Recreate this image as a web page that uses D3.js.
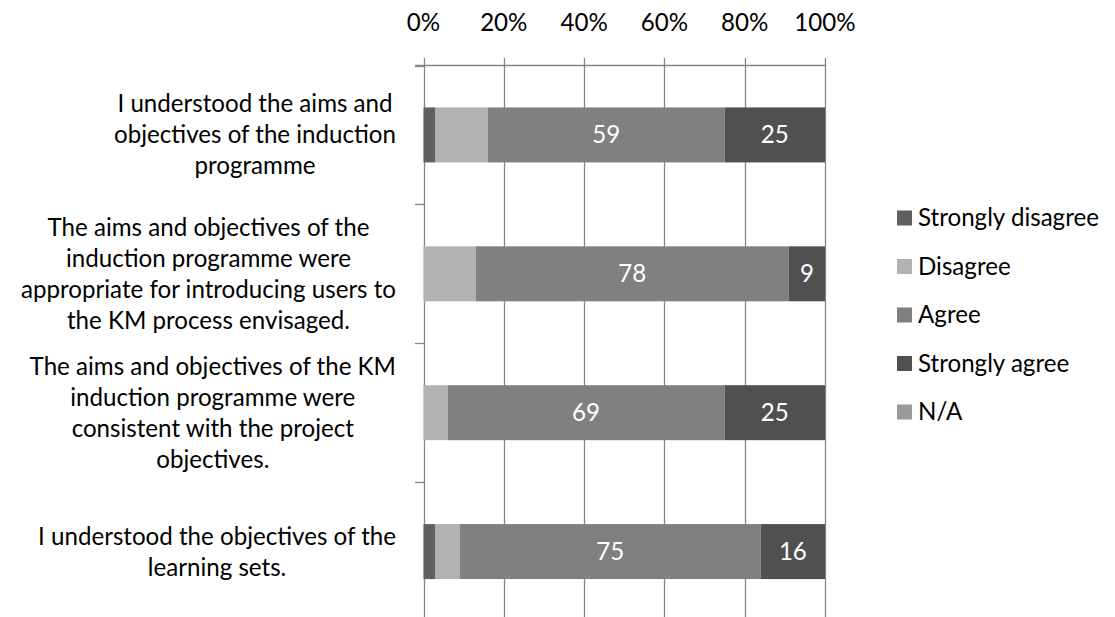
<!DOCTYPE html>
<html>
<head>
<meta charset="utf-8">
<script src="https://cdn.jsdelivr.net/npm/d3@7"></script>
<style>
  html, body { margin: 0; padding: 0; background: #ffffff; }
  svg { display: block; }
</style>
</head>
<body>
<svg id="chart" width="1115" height="617"></svg>
<script>
// ---- data ----
const categories = [
  ["I understood the aims and", "objectives of the induction", "programme"],
  ["The aims and objectives of the", "induction programme were", "appropriate for introducing users to", "the KM process envisaged."],
  ["The aims and objectives of the KM", "induction programme were", "consistent with the project", "objectives."],
  ["I understood the objectives of the", "learning sets."]
];
const seriesNames = ["Strongly disagree", "Disagree", "Agree", "Strongly agree", "N/A"];
const stronglyDisagree = [3, 0, 0, 3];
const disagree = [13, 13, 6, 6];
const agree = [59, 78, 69, 75];
const stronglyAgree = [25, 9, 25, 16];
const notApplicable = [0, 0, 0, 0];
const labelledSeries = ["Agree", "Strongly agree"];
const tickValues = [0, 0.2, 0.4, 0.6, 0.8, 1.0];
const tickLabels = ["0%", "20%", "40%", "60%", "80%", "100%"];
const colors = ["#606060", "#b2b2b2", "#808080", "#505050", "#999999"];

// ---- setup ----
const svg = d3.select("#chart");
const FONT = "Lato, 'Open Sans', 'DejaVu Sans', sans-serif";

// fit font size so legend text width matches reference
const probe = svg.append("text").attr("font-family", FONT).attr("font-size", 100).text("Strongly disagree");
const probeW = probe.node().getComputedTextLength();
probe.remove();
const FS = Math.max(16, Math.min(28, 100 * 181 / probeW));

const values = [stronglyDisagree, disagree, agree, stronglyAgree, notApplicable];
const rows = categories.map((c, i) => {
  const r = { key: "c" + i };
  seriesNames.forEach((s, j) => r[s] = values[j][i]);
  return r;
});
const stack = d3.stack().keys(seriesNames).offset(d3.stackOffsetExpand);
const stacked = stack(rows);

const x = d3.scaleLinear().domain([0, 1]).range([423.5, 825]);
const y = d3.scaleBand().domain(rows.map(r => r.key)).range([65.5, 621])
  .paddingInner(0.604).paddingOuter(0.302);

const gridColor = "#868686";

// gridlines (vertical)
svg.append("g").selectAll("line").data(tickValues).join("line")
  .attr("x1", d => Math.round(x(d)) + 0.5).attr("x2", d => Math.round(x(d)) + 0.5)
  .attr("y1", 58).attr("y2", 617)
  .attr("stroke", gridColor).attr("stroke-width", 1.3);

// top axis line
svg.append("line").attr("x1", 415).attr("x2", Math.round(x(1)) + 0.5)
  .attr("y1", 65.5).attr("y2", 65.5).attr("stroke", gridColor).attr("stroke-width", 1.3);

// category ticks on left axis
const step = y.step();
const bounds = d3.range(0, 5).map(i => 65.5 + i * step);
svg.append("g").selectAll("line").data(bounds).join("line")
  .attr("x1", 415).attr("x2", 424)
  .attr("y1", d => Math.round(d) + 0.5).attr("y2", d => Math.round(d) + 0.5)
  .attr("stroke", gridColor).attr("stroke-width", 1.3);

// tick labels (top)
svg.append("g").selectAll("text").data(tickValues).join("text")
  .attr("x", d => x(d)).attr("y", 31)
  .attr("text-anchor", "middle")
  .attr("font-family", FONT).attr("font-size", FS).attr("fill", "#000")
  .text((d, i) => tickLabels[i]);

// bars
const layers = svg.append("g").selectAll("g").data(stacked).join("g")
  .attr("fill", (d, i) => colors[i]);
layers.selectAll("rect").data(d => d.map(p => ({ p, key: d.key }))).join("rect")
  .attr("x", d => x(d.p[0]))
  .attr("width", d => Math.max(0, x(d.p[1]) - x(d.p[0])))
  .attr("y", (d, i) => y(rows[i].key))
  .attr("height", y.bandwidth());

// data labels
stacked.filter(s => labelledSeries.includes(s.key)).forEach(s => {
  svg.append("g").selectAll("text").data(s).join("text")
    .attr("x", d => (x(d[0]) + x(d[1])) / 2)
    .attr("y", (d, i) => y(rows[i].key) + y.bandwidth() / 2)
    .attr("dy", "0.35em")
    .attr("text-anchor", "middle")
    .attr("font-family", FONT).attr("font-size", FS).attr("fill", "#ffffff")
    .text(d => d.data[s.key]);
});

// category labels
const lineH = 31;
const rightEdge = 396;
categories.forEach((lines, i) => {
  const g = svg.append("g");
  const cy = y(rows[i].key) + y.bandwidth() / 2;
  const texts = g.selectAll("text").data(lines).join("text")
    .attr("font-family", FONT).attr("font-size", FS).attr("fill", "#000")
    .attr("text-anchor", "middle")
    .attr("y", (d, k) => cy + (k - (lines.length - 1) / 2) * lineH)
    .attr("dy", "0.35em")
    .text(d => d);
  let maxW = 0;
  texts.each(function () { maxW = Math.max(maxW, this.getComputedTextLength()); });
  texts.attr("x", rightEdge - maxW / 2);
});

// legend
const legendY = d3.scalePoint().domain(seriesNames).range([218, 412]);
const lg = svg.append("g").selectAll("g").data(seriesNames).join("g")
  .attr("transform", d => `translate(897, ${legendY(d)})`);
lg.append("rect").attr("x", 0).attr("y", -7.5).attr("width", 15).attr("height", 15)
  .attr("fill", (d, i) => colors[i]);
lg.append("text").attr("x", 21).attr("y", 0).attr("dy", "0.35em")
  .attr("font-family", FONT).attr("font-size", FS).attr("fill", "#000")
  .text(d => d);
</script>
</body>
</html>
